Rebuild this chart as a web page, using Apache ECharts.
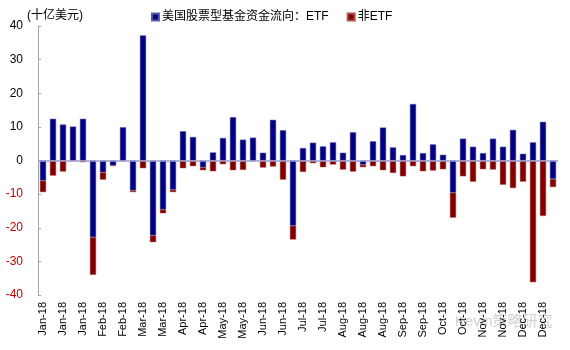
<!DOCTYPE html>
<html>
<head>
<meta charset="utf-8">
<script src="https://cdn.jsdelivr.net/npm/echarts@6/dist/echarts.min.js"></script>
<style>html,body{margin:0;padding:0;background:#fff}#c{width:570px;height:350px}</style>
</head>
<body>
<div id="c"></div>
<script>
// Weekly categories (2018)
var categories = [
  'Jan-18','Jan-18','Jan-18','Jan-18','Jan-18',
  'Feb-18','Feb-18','Feb-18','Feb-18',
  'Mar-18','Mar-18','Mar-18','Mar-18',
  'Apr-18','Apr-18','Apr-18','Apr-18',
  'May-18','May-18','May-18','May-18','May-18',
  'Jun-18','Jun-18','Jun-18','Jun-18',
  'Jul-18','Jul-18','Jul-18','Jul-18',
  'Aug-18','Aug-18','Aug-18','Aug-18','Aug-18',
  'Sep-18','Sep-18','Sep-18','Sep-18',
  'Oct-18','Oct-18','Oct-18','Oct-18','Oct-18',
  'Nov-18','Nov-18','Nov-18','Nov-18',
  'Dec-18','Dec-18','Dec-18','Dec-18'
];
// 美国股票型基金资金流向：ETF (十亿美元)
var etf = [
  -6.0, 12.4, 10.7, 10.1, 12.4, -22.8, -3.5, -1.5, 9.9, -8.9,
  37.2, -22.3, -14.6, -8.7, 8.7, 7.0, -2.0, 2.4, 6.7, 12.9,
  6.2, 6.8, 2.3, 12.1, 9.0, -19.4, 3.7, 5.3, 4.2, 5.4,
  2.3, 8.4, -1.3, 5.7, 9.8, 3.9, 1.6, 16.8, 2.2, 4.8,
  1.7, -9.6, 6.5, 4.1, 2.2, 6.5, 4.1, 9.1, 2.0, 5.4,
  11.5, -5.5
];
// 非ETF
var nonEtf = [
  -3.4, -4.5, -3.3, -0.1, -0.5, -11.2, -2.2, -0.1, -0.2, -0.5,
  -2.3, -2.0, -1.1, -0.7, -2.3, -1.7, -0.9, -3.2, -1.1, -2.9,
  -2.8, -0.1, -2.1, -1.8, -5.7, -4.1, -3.4, -0.8, -2.0, -1.2,
  -2.7, -3.3, -0.7, -1.7, -2.9, -3.7, -4.7, -1.7, -3.2, -3.0,
  -2.6, -7.4, -4.7, -6.3, -2.6, -2.7, -7.2, -8.2, -6.3, -36.2,
  -16.5, -2.4
];
var yTicks = [-40, -30, -20, -10, 0, 10, 20, 30, 40];

var latin = 'Liberation Sans, Arial, sans-serif';
var cjk = 'Liberation Sans, "Noto Sans CJK SC", sans-serif';

var chart = echarts.init(document.getElementById('c'), null, {renderer: 'canvas'});
chart.setOption({
  animation: false,
  backgroundColor: '#fff',
  grid: {left: 38, right: 12, top: 26, bottom: 55, containLabel: false},
  title: {
    text: '(十亿美元)', left: 22, top: 5,
    textStyle: {fontFamily: cjk, fontSize: 12, fontWeight: 'normal', color: '#000'}
  },
  legend: {
    left: 146, top: 6, itemWidth: 7, itemHeight: 7, itemGap: 18,
    icon: 'rect',
    textStyle: {fontFamily: cjk, fontSize: 12, color: '#000', padding: [0, 0, 0, -2]},
    data: ['美国股票型基金资金流向：ETF', '非ETF']
  },
  xAxis: {
    type: 'category',
    data: categories,
    axisLine: {show: false, onZero: false},
    axisTick: {show: false},
    axisLabel: {
      interval: 1, rotate: 90, margin: 7,
      fontFamily: latin, fontSize: 11, color: '#000'
    }
  },
  yAxis: {
    type: 'value',
    min: yTicks[0], max: yTicks[yTicks.length - 1], interval: 10,
    splitLine: {show: false},
    axisLine: {show: true, lineStyle: {color: '#a6a6a6', width: 1}},
    axisTick: {show: true, inside: true, length: 3, lineStyle: {color: '#a6a6a6'}},
    axisLabel: {
      margin: 15, fontFamily: latin, fontSize: 12,
      color: function (v) { return v < 0 ? '#c00000' : '#000'; }
    }
  },
  series: [
    {
      name: '美国股票型基金资金流向：ETF',
      type: 'bar', stack: 'flow', data: etf,
      barCategoryGap: '38%',
      itemStyle: {color: '#000080', borderColor: '#5a5ab0', borderWidth: 0.5},
      markLine: {
        silent: true, symbol: 'none', label: {show: false},
        lineStyle: {color: '#9c9cd0', width: 1.5, type: 'solid'},
        data: [{yAxis: 0}]
      }
    },
    {
      name: '非ETF',
      type: 'bar', stack: 'flow', data: nonEtf,
      itemStyle: {color: '#800000', borderColor: '#b05050', borderWidth: 0.5}
    }
  ],
  graphic: [{
    type: 'text', left: 455, top: 314, silent: true,
    style: {
      text: 'Kevin策略研究', fontFamily: cjk, fontSize: 15,
      fill: 'rgba(170,170,170,0.55)'
    }
  }]
});
</script>
</body>
</html>
